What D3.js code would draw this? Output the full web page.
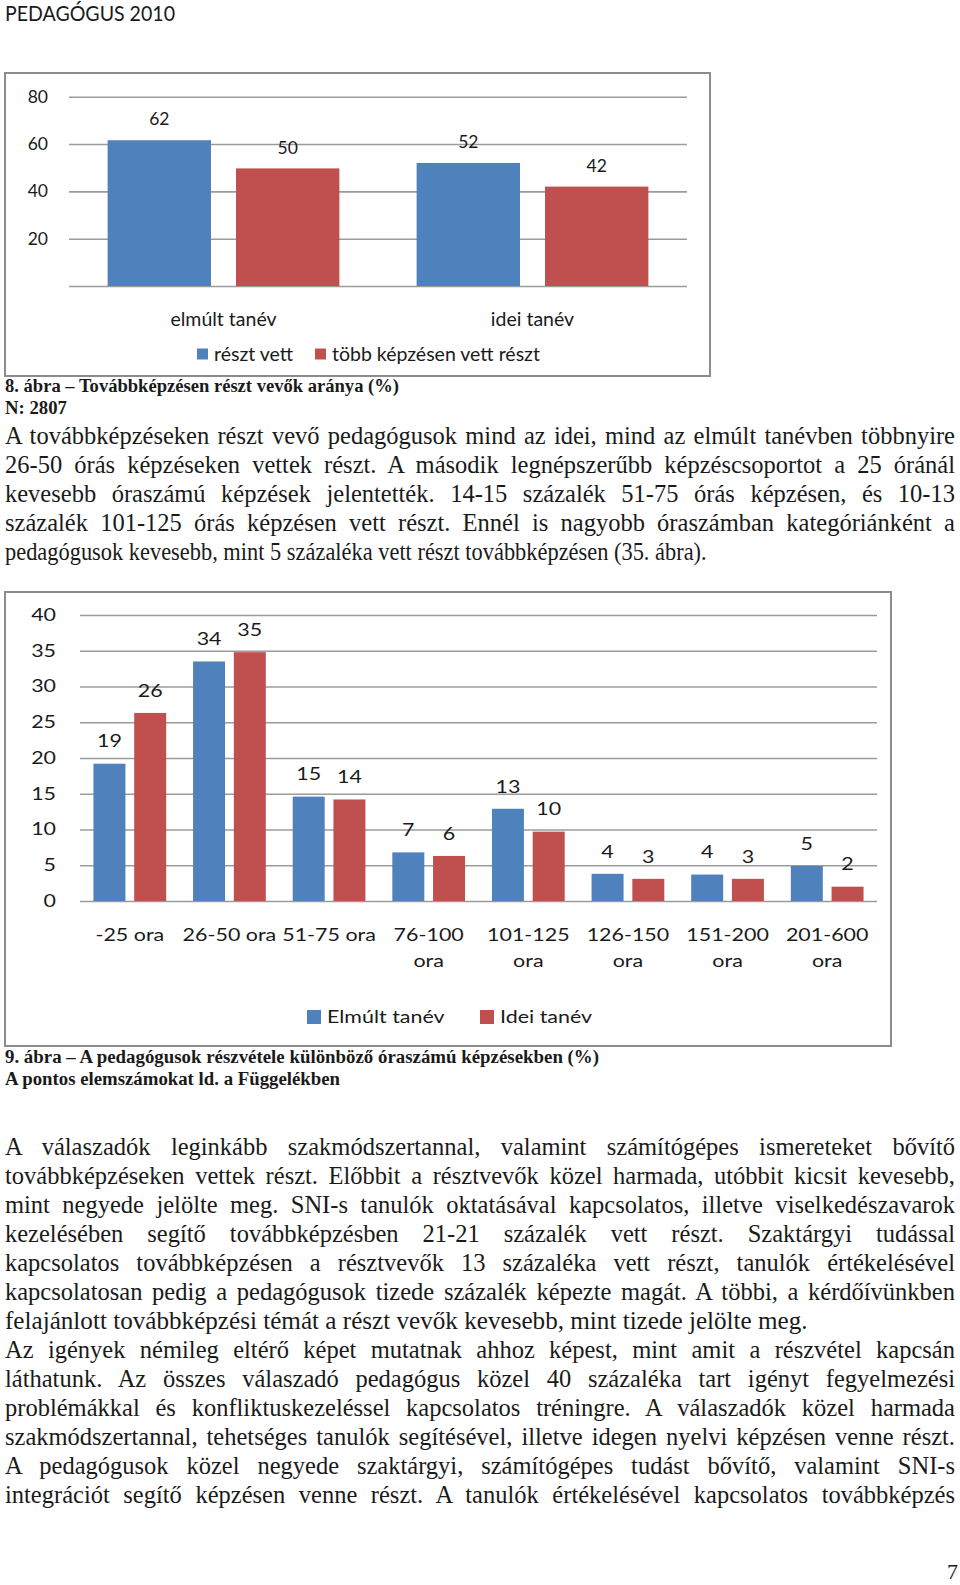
<!DOCTYPE html>
<html>
<head>
<meta charset="utf-8">
<script src="https://cdn.jsdelivr.net/npm/d3@7"></script>
<style>
  body { margin: 0; background: #fff; }
  svg { display: block; }
</style>
</head>
<body>
<svg id="page" width="960" height="1585"></svg>
<script>
// 8. ábra data
const fig8Categories = ['elmúlt tanév', 'idei tanév'];
const fig8Series = ['részt vett', 'több képzésen vett részt'];
const fig8ResztVett = [61.6, 52.0];
const fig8TobbKepzes = [49.7, 42.0];
const fig8Ticks = [0, 20, 40, 60, 80];

// 9. ábra data
const fig9Categories = ['-25 ora', '26-50 ora', '51-75 ora', '76-100\nora', '101-125\nora',
  '126-150\nora', '151-200\nora', '201-600\nora'];
const fig9Series = ['Elmúlt tanév', 'Idei tanév'];
const fig9Elmult = [19.2, 33.5, 14.6, 6.8, 12.9, 3.8, 3.7, 4.9];
const fig9Idei = [26.3, 34.8, 14.2, 6.3, 9.7, 3.1, 3.1, 2.0];
const fig9Ticks = [0, 5, 10, 15, 20, 25, 30, 35, 40];

// page text
const block1 = [
  'A továbbképzéseken részt vevő pedagógusok mind az idei, mind az elmúlt tanévben többnyire',
  '26-50 órás képzéseken vettek részt. A második legnépszerűbb képzéscsoportot a 25 óránál',
  'kevesebb óraszámú képzések jelentették. 14-15 százalék 51-75 órás képzésen, és 10-13',
  'százalék 101-125 órás képzésen vett részt. Ennél is nagyobb óraszámban kategóriánként a',
  'pedagógusok kevesebb, mint 5 százaléka vett részt továbbképzésen (35. ábra).',
];
const block2 = [
  'A válaszadók leginkább szakmódszertannal, valamint számítógépes ismereteket bővítő',
  'továbbképzéseken vettek részt. Előbbit a résztvevők közel harmada, utóbbit kicsit kevesebb,',
  'mint negyede jelölte meg. SNI-s tanulók oktatásával kapcsolatos, illetve viselkedészavarok',
  'kezelésében segítő továbbképzésben 21-21 százalék vett részt. Szaktárgyi tudással',
  'kapcsolatos továbbképzésen a résztvevők 13 százaléka vett részt, tanulók értékelésével',
  'kapcsolatosan pedig a pedagógusok tizede százalék képezte magát. A többi, a kérdőívünkben',
  'felajánlott továbbképzési témát a részt vevők kevesebb, mint tizede jelölte meg.',
  'Az igények némileg eltérő képet mutatnak ahhoz képest, mint amit a részvétel kapcsán',
  'láthatunk. Az összes válaszadó pedagógus közel 40 százaléka tart igényt fegyelmezési',
  'problémákkal és konfliktuskezeléssel kapcsolatos tréningre. A válaszadók közel harmada',
  'szakmódszertannal, tehetséges tanulók segítésével, illetve idegen nyelvi képzésen venne részt.',
  'A pedagógusok közel negyede szaktárgyi, számítógépes tudást bővítő, valamint SNI-s',
  'integrációt segítő képzésen venne részt. A tanulók értékelésével kapcsolatos továbbképzés',
];
// paragraph-ending lines (not justified) and the width they take on the page
const block1Ends = [4];
const block1EndWidths = [702];
const block2Ends = [6];
const block2EndWidths = [803];

const chartFont = 'Lato, "Open Sans", sans-serif';
const serif = '"Liberation Serif", "Times New Roman", serif';
const blue = '#4f81bd';
const red = '#c0504d';
const gridColor = '#9b9b9b';
const frameColor = '#8c8c8c';
const inkColor = '#1a1a1a';

const svg = d3.select('#page');

svg.append('text')
  .attr('x', 5)
  .attr('y', 20.5)
  .attr('font-family', chartFont)
  .attr('font-size', 20.5)
  .attr('fill', inkColor)
  .attr('textLength', 170)
  .attr('lengthAdjust', 'spacingAndGlyphs')
  .text('PEDAGÓGUS 2010');

function stretchedText(g, x, y, str, anchor, size, k) {
  return g.append('text')
    .attr('transform', `translate(${x},${y}) scale(${k},1)`)
    .attr('text-anchor', anchor)
    .attr('dy', '0.35em')
    .attr('font-family', chartFont)
    .attr('font-size', size)
    .attr('fill', inkColor)
    .text(str);
}

function drawBars(cfg) {
  const g = svg.append('g');

  g.append('rect')
    .attr('x', cfg.frame[0])
    .attr('y', cfg.frame[1])
    .attr('width', cfg.frame[2] - cfg.frame[0])
    .attr('height', cfg.frame[3] - cfg.frame[1])
    .attr('fill', '#fff')
    .attr('stroke', frameColor)
    .attr('stroke-width', 2);

  const x0 = d3.scaleBand()
    .domain(cfg.categories)
    .range([cfg.left, cfg.right])
    .paddingInner(cfg.padGroup)
    .paddingOuter(cfg.padGroup / 2);

  const x1 = d3.scaleBand()
    .domain(d3.range(cfg.values.length))
    .range([0, x0.bandwidth()])
    .paddingInner(cfg.padBar);

  const y = d3.scaleLinear().domain([0, cfg.max]).range([cfg.bottom, cfg.top]);

  // Gridlines + tick labels
  const yAxis = d3.axisLeft(y)
    .tickValues(cfg.ticks)
    .tickSize(-(cfg.right - cfg.left))
    .tickPadding(cfg.tickPad)
    .tickFormat(d => (cfg.hideZero && d === 0 ? '' : d));

  g.append('g')
    .attr('transform', `translate(${cfg.left},0)`)
    .call(yAxis)
    .call(a => a.select('.domain').remove())
    .call(a => a.selectAll('.tick line').attr('stroke', gridColor).attr('stroke-width', 1.6))
    .call(a => a.selectAll('.tick text')
      .attr('font-family', chartFont)
      .attr('font-size', cfg.fontSize)
      .attr('fill', inkColor)
      .attr('x', -cfg.tickPad / cfg.stretch)
      .attr('transform', `scale(${cfg.stretch},1)`));

  // Bars
  cfg.values.forEach((series, si) => {
    g.append('g')
      .selectAll('rect')
      .data(series)
      .enter().append('rect')
      .attr('x', (d, i) => x0(cfg.categories[i]) + x1(si))
      .attr('y', d => y(d))
      .attr('width', x1.bandwidth())
      .attr('height', d => y(0) - y(d))
      .attr('fill', cfg.colors[si]);

    series.forEach((d, i) => {
      stretchedText(g, x0(cfg.categories[i]) + x1(si) + x1.bandwidth() / 2,
        y(d) - cfg.labelGap, Math.round(d), 'middle', cfg.fontSize, cfg.stretch);
    });
  });

  // Category axis
  const xAxis = d3.axisBottom(x0).tickSize(0).tickFormat('');
  const xg = g.append('g')
    .attr('transform', `translate(0,${cfg.bottom})`)
    .call(xAxis)
    .call(a => a.select('.domain').remove());

  xg.selectAll('.tick').each(function (d) {
    const tick = d3.select(this);
    d.split('\n').forEach((line, li) => {
      stretchedText(tick, 0, cfg.catOffset + li * cfg.catLine, line, 'middle', cfg.textSize, cfg.stretch);
    });
  });

  // Legend
  cfg.series.forEach((name, si) => {
    const lx = cfg.legendX[si];
    g.append('rect')
      .attr('x', lx)
      .attr('y', cfg.legendY - cfg.swatch / 2)
      .attr('width', cfg.swatch)
      .attr('height', cfg.swatch)
      .attr('fill', cfg.colors[si]);
    stretchedText(g, lx + cfg.swatch + cfg.swatchGap, cfg.legendY, name, 'start', cfg.textSize, cfg.stretch);
  });
}

drawBars({
  frame: [5, 73, 710, 376],
  left: 69,
  right: 687,
  top: 96.7,
  bottom: 286,
  max: 80,
  ticks: fig8Ticks,
  hideZero: true,
  tickPad: 21,
  categories: fig8Categories,
  series: fig8Series,
  values: [fig8ResztVett, fig8TobbKepzes],
  colors: [blue, red],
  padGroup: 0.25,
  padBar: 0.195,
  fontSize: 17.5,
  textSize: 19.5,
  stretch: 1,
  labelGap: 21,
  catOffset: 33,
  catLine: 24,
  legendX: [197, 315],
  legendY: 354,
  swatch: 11,
  swatchGap: 6,
});

drawBars({
  frame: [5, 592, 891, 1046],
  left: 80,
  right: 877,
  top: 615,
  bottom: 901,
  max: 40,
  ticks: fig9Ticks,
  hideZero: false,
  tickPad: 24,
  categories: fig9Categories,
  series: fig9Series,
  values: [fig9Elmult, fig9Idei],
  colors: [blue, red],
  padGroup: 0.27,
  padBar: 0.215,
  fontSize: 16.5,
  textSize: 16.5,
  stretch: 1.3,
  labelGap: 22,
  catOffset: 34,
  catLine: 26,
  legendX: [307, 480],
  legendY: 1017,
  swatch: 14,
  swatchGap: 6,
});

// Captions
function caption(str, y, width) {
  svg.append('text')
    .attr('x', 5)
    .attr('y', y)
    .attr('font-family', serif)
    .attr('font-weight', 'bold')
    .attr('font-size', 18.5)
    .attr('fill', inkColor)
    .attr('textLength', width)
    .attr('lengthAdjust', 'spacingAndGlyphs')
    .text(str);
}

caption('8. ábra – Továbbképzésen részt vevők aránya (%)', 392, 394);
caption('N: 2807', 414, 62);
caption('9. ábra – A pedagógusok részvétele különböző óraszámú képzésekben (%)', 1063, 594);
caption('A pontos elemszámokat ld. a Függelékben', 1085, 335);

// Justified body text
const bodySize = 24.5;
const lineWidth = 950;

function measure(str) {
  const t = svg.append('text')
    .attr('font-family', serif)
    .attr('font-size', bodySize)
    .text(str);
  const w = t.node().getComputedTextLength();
  t.remove();
  return w;
}

function bodyBlock(lines, ends, endWidths, firstY, step) {
  lines.forEach((str, i) => {
    const natural = measure(str);
    const spaces = (str.match(/ /g) || []).length;
    let sx = 1;
    let ws = 0;
    if (ends.includes(i)) {
      sx = endWidths[ends.indexOf(i)] / natural;
    } else {
      sx = Math.min(1, lineWidth / natural);
      ws = (lineWidth / sx - natural) / spaces;
    }
    svg.append('text')
      .attr('transform', `translate(5,${firstY + i * step}) scale(${sx},1)`)
      .attr('font-family', serif)
      .attr('font-size', bodySize)
      .attr('fill', inkColor)
      .style('word-spacing', `${ws}px`)
      .text(str);
  });
}

bodyBlock(block1, block1Ends, block1EndWidths, 443.5, 29);
bodyBlock(block2, block2Ends, block2EndWidths, 1154.5, 29.05);

svg.append('text')
  .attr('x', 958)
  .attr('y', 1579)
  .attr('text-anchor', 'end')
  .attr('font-family', serif)
  .attr('font-size', 22)
  .attr('fill', inkColor)
  .text('7');
</script>
</body>
</html>
